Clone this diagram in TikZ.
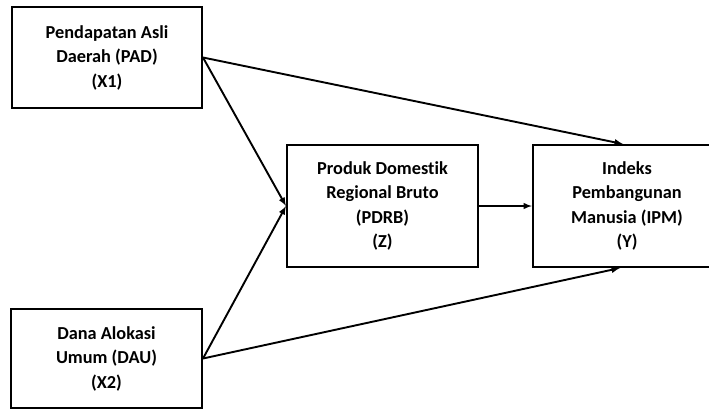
\documentclass[tikz,border=0pt]{standalone}
\usepackage{fontspec}
\setmainfont{Carlito}[Ligatures=NoCommon]
\usetikzlibrary{arrows}
\usetikzlibrary{positioning}

\begin{document}
\begin{tikzpicture}[%
        x=1pt, y=-1pt,
        every node/.style={rectangle, draw, line width=2pt, align=center, inner sep=0pt,
          font=\fontsize{18.3}{24.5}\selectfont\bfseries},
        line width=1.9pt,
        >=latex
      ]
      \useasboundingbox (0,0) rectangle (709,410);
      \node [minimum width=190pt, minimum height=101pt] (X1) at (107,57.5) {Pendapatan Asli\\Daerah (PAD)\\(X1)};
      \node [minimum width=191pt, minimum height=99pt] (X2) at (106.5,358.5) {Dana Alokasi\\Umum (DAU)\\(X2)};
      \node [minimum width=191pt, minimum height=122pt] (Z) at (382.5,206) {Produk Domestik\\Regional Bruto\\(PDRB)\\(Z)};
      \node [minimum width=188pt, minimum height=122pt, right=53pt of Z] (Y) {Indeks\\Pembangunan\\Manusia (IPM)\\(Y)};
      \path [draw] (X1.east) edge[->] (Z.west)
      (X1.east) edge[->] ([xshift=-4pt]Y.north)
      (X2.east) edge[->] (Z.west)
      (X2.east) edge[->] ([xshift=-7pt]Y.south)
      (Z.east) edge[->] (Y.west);
    \end{tikzpicture}
\end{document}
